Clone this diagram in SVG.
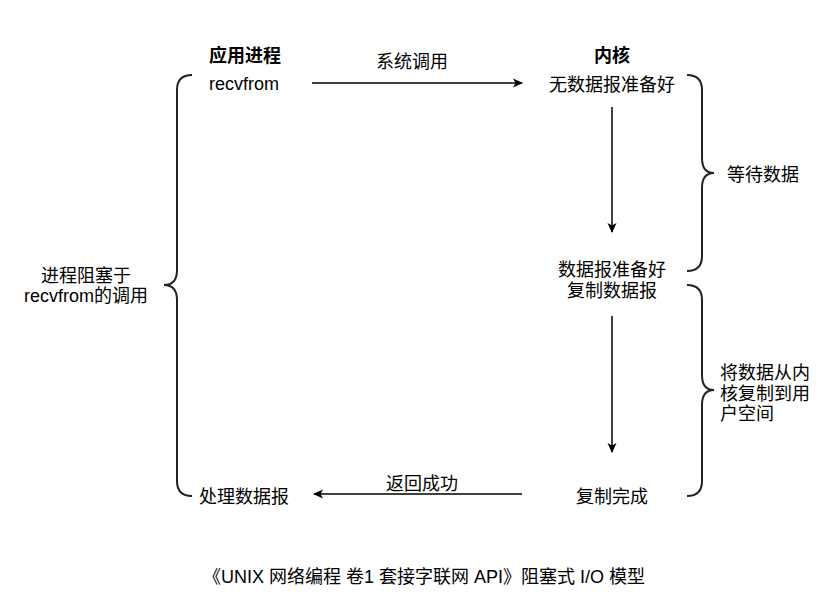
<svg xmlns="http://www.w3.org/2000/svg" width="839" height="611" viewBox="0 0 839 611">
<style>
text{font-family:"Liberation Sans","Noto Sans CJK SC",sans-serif;font-size:18px;fill:#000}
.b{font-weight:bold}
.m{text-anchor:middle}
.edge{stroke:#000;stroke-width:1.5;fill:none}
.brace{stroke:#222;stroke-width:2;fill:none}
</style>
<defs>
<marker id="ah" viewBox="0 0 10 10" refX="9" refY="5" markerWidth="10" markerHeight="10" markerUnits="userSpaceOnUse" orient="auto">
<path d="M0,0.5 L10,5 L0,9.5 L2.5,5 Z" fill="#000"/>
</marker>
</defs>
<rect width="839" height="611" fill="#fff"/>
<g id="title-app"><text class="b m" x="245" y="62">应用进程</text></g>
<g id="title-kernel"><text class="b m" x="612" y="62">内核</text></g>
<g id="recvfrom"><text class="m" x="244" y="90">recvfrom</text></g>
<g id="no-data"><text class="m" x="612" y="91">无数据报准备好</text></g>
<g id="data-ready"><text class="m" x="612" y="276">数据报准备好</text><text class="m" x="612" y="297">复制数据报</text></g>
<g id="copy-done"><text class="m" x="612" y="503">复制完成</text></g>
<g id="process"><text class="m" x="244" y="503">处理数据报</text></g>
<g id="wait"><text x="727" y="181">等待数据</text></g>
<g id="copy-label"><text x="720" y="379">将数据从内</text><text x="720" y="400">核复制到用</text><text x="720" y="420">户空间</text></g>
<g id="blocked"><text class="m" x="86" y="282">进程阻塞于</text><text class="m" x="86" y="302">recvfrom的调用</text></g>
<g id="braces">
<path class="brace" d="M192,75 Q177,75 177,90 L177,270 Q177,285 164,285 Q177,285 177,300 L177,481 Q177,496 192,496"/>
<path class="brace" d="M687,75 Q702,75 702,90 L702,158 Q702,173 714,173 Q702,173 702,188 L702,256 Q702,271 687,271"/>
<path class="brace" d="M687,285 Q702,285 702,300 L702,375 Q702,390 714,390 Q702,390 702,405 L702,481 Q702,496 687,496"/>
</g>
<g id="connectors">
<line class="edge" x1="312" y1="83" x2="522" y2="83" marker-end="url(#ah)"/>
<line class="edge" x1="612" y1="107" x2="612" y2="232" marker-end="url(#ah)"/>
<line class="edge" x1="612" y1="316" x2="612" y2="452" marker-end="url(#ah)"/>
<line class="edge" x1="522" y1="494" x2="314" y2="494" marker-end="url(#ah)"/>
<text class="m" x="412" y="68">系统调用</text>
<text class="m" x="422" y="490">返回成功</text>
</g>
<g id="caption"><text class="m" x="424" y="583">《UNIX 网络编程 卷1 套接字联网 API》阻塞式 I/O 模型</text></g>
</svg>
